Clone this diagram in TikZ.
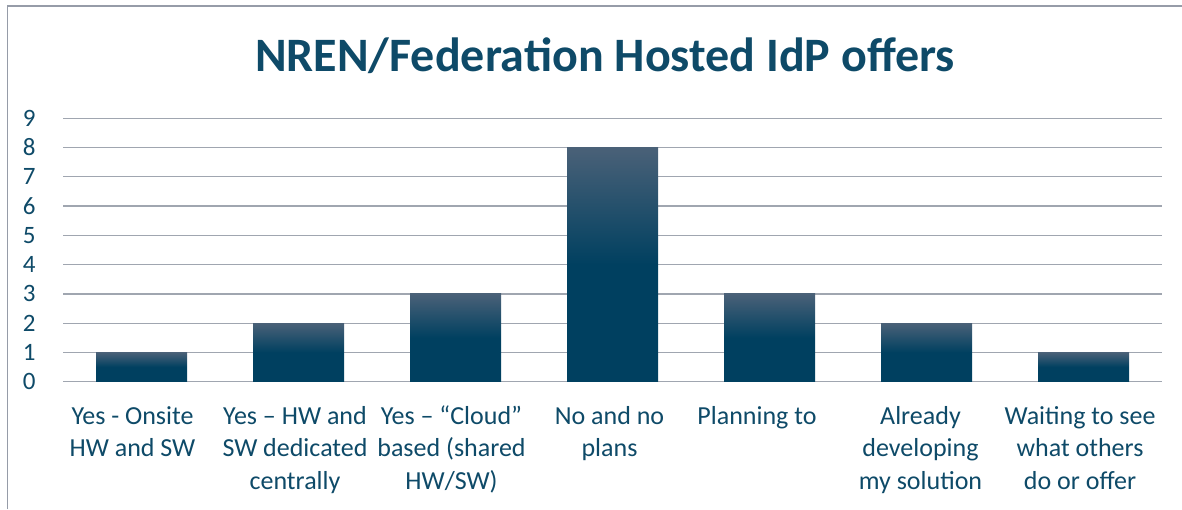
\documentclass[tikz,border=0pt]{standalone}
\usepackage{fontspec}
\setmainfont{Carlito}
\definecolor{textblue}{RGB}{14,74,104}
\definecolor{bardark}{RGB}{0,64,96}
\definecolor{bartop}{RGB}{74,97,120}
\definecolor{gridgray}{RGB}{160,166,176}
\definecolor{framegray}{RGB}{150,156,168}
\pgfdeclareverticalshading{barshade}{100bp}{color(0bp)=(bardark); color(25bp)=(bardark); color(50bp)=(bardark); color(75bp)=(bartop); color(100bp)=(bartop)}
\tikzset{
  ylab/.style={anchor=base east, text=textblue, font=\fontsize{25}{30}\selectfont},
  catlab/.style={anchor=north, align=center, text=textblue, inner sep=0pt, font=\fontsize{26}{32.5}\selectfont},
  grid line/.style={gridgray, line width=1.3pt}
}
\begin{document}
\begin{tikzpicture}[x=1pt, y=1pt]
    \useasboundingbox (0,0) rectangle (1182,509);
    \draw[framegray, line width=1.3pt] (7.7,0) -- (7.7,503) -- (1182,503);

    \node[font=\bfseries\fontsize{48}{54}\selectfont, text=textblue, anchor=base] (title) at (605,437) {NREN/Federation Hosted IdP offers};

    % gridlines and values
    \foreach \v in {0,...,9} {
        \draw[grid line] (63,127.3+29.27*\v) -- (1162,127.3+29.27*\v);
        \node[ylab] (y\v) at (39,119.3+29.27*\v) {\v};
    }

    % bars
    \foreach \val [count=\i] in {1,2,3,8,3,2,1}
        \shade[shading=barshade] (96+157*\i-157,127.3) rectangle ++(91,29.27*\val);

    % first line baseline at 85, strut top 22.75 above it
    \node[catlab] (cat1) at (132.5,107.75) {\strut Yes - Onsite\\HW and SW};
    \node[catlab] (cat2) at (295,107.75) {\strut Yes – HW and\\SW dedicated\\centrally};
    \node[catlab] (cat3) at (451.5,107.75) {\strut Yes – “Cloud”\\based (shared\\HW/SW)};
    \node[catlab] (cat4) at (609.5,107.75) {\strut No and no\\plans};
    \node[catlab] (cat5) at (757,107.75) {\strut Planning to};
    \node[catlab] (cat6) at (920.5,107.75) {\strut Already\\developing\\my solution};
    \node[catlab] (cat7) at (1080,107.75) {\strut Waiting to see\\what others\\do or offer};
\end{tikzpicture}
\end{document}
